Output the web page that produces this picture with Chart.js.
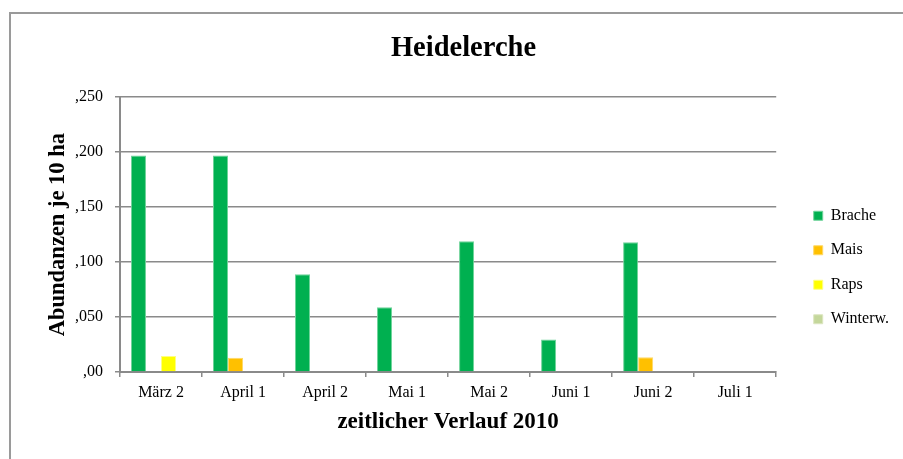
<!DOCTYPE html>
<html lang="de">
<head>
    <meta charset="UTF-8">
    <title>Heidelerche</title>
    <script src="https://cdn.jsdelivr.net/npm/chart.js"></script>
    <style>
        html, body {
            margin: 0;
            padding: 0;
            background: #fff;
        }
        .wrap {
            position: relative;
            width: 903px;
            height: 459px;
            overflow: hidden;
        }
        .rahmen {
            position: absolute;
            left: 9px;
            top: 12px;
            width: 1000px;
            height: 1000px;
            border: 2px solid #9a9a9a;
            box-sizing: border-box;
        }
        .chart-box {
            position: absolute;
            left: 0;
            top: 0;
            width: 903px;
            height: 459px;
        }
    </style>
</head>
<body>

<div class="wrap">
    <div class="rahmen"></div>
    <div class="chart-box">
        <canvas id="heidelerche-graph"></canvas>
    </div>
</div>

<script>
    // Werte (Abundanzen je 10 ha)
    const kategorien = ['März 2', 'April 1', 'April 2', 'Mai 1', 'Mai 2', 'Juni 1', 'Juni 2', 'Juli 1'];
    const brache = [0.197, 0.197, 0.089, 0.059, 0.119, 0.0295, 0.118, 0];
    const mais = [0, 0.013, 0, 0, 0, 0, 0.0134, 0];
    const raps = [0.0146, 0, 0, 0, 0, 0, 0, 0];
    const winterw = [0, 0, 0, 0, 0, 0, 0, 0];
    const yTickLabels = [',00', ',050', ',100', ',150', ',200', ',250'];

    const schrift = "'Liberation Serif', 'Times New Roman', serif";
    const gitterFarbe = '#8a8a8a';

    // Legende an die Stelle wie im Original schieben
    const legendeVerschieben = {
        id: 'legendeVerschieben',
        afterLayout(chart) {
            const lg = chart.legend;
            if (!lg) return;
            lg.left += 19;
            lg.right += 19;
            lg.top += 38;
            lg.bottom += 38;
        }
    };

    const ctx = document.getElementById('heidelerche-graph').getContext('2d');
    new Chart(ctx, {
        type: 'bar',
        data: {
            labels: kategorien,
            datasets: [
                { label: 'Brache', data: brache, backgroundColor: '#00b050', borderColor: '#6fd39a', borderWidth: 1 },
                { label: 'Mais', data: mais, backgroundColor: '#ffc000', borderColor: '#ffd966', borderWidth: 1 },
                { label: 'Raps', data: raps, backgroundColor: '#ffff00', borderColor: '#ffff80', borderWidth: 1 },
                { label: 'Winterw.', data: winterw, backgroundColor: '#c4d79b', borderColor: '#dce6c1', borderWidth: 1 }
            ]
        },
        options: {
            responsive: true,
            maintainAspectRatio: false,
            animation: false,
            layout: {
                padding: { left: 47, right: 23, top: 0, bottom: 0 }
            },
            datasets: {
                bar: {
                    categoryPercentage: 0.733,
                    barPercentage: 1
                }
            },
            plugins: {
                title: {
                    display: true,
                    text: 'Heidelerche',
                    color: '#000',
                    font: { family: schrift, size: 28.5, weight: 'bold' },
                    padding: { top: 32, bottom: 31 }
                },
                legend: {
                    position: 'right',
                    labels: {
                        color: '#000',
                        font: { family: schrift, size: 16 },
                        boxWidth: 9,
                        boxHeight: 9,
                        padding: 18.5
                    }
                },
                tooltip: { enabled: false }
            },
            scales: {
                x: {
                    afterFit: (s) => { s.height = 87; },
                    grid: {
                        drawOnChartArea: false,
                        drawTicks: true,
                        tickLength: 5,
                        color: gitterFarbe,
                        lineWidth: 1.5
                    },
                    border: { color: gitterFarbe, width: 2 },
                    ticks: {
                        color: '#000',
                        font: { family: schrift, size: 16 },
                        padding: 6,
                        maxRotation: 0
                    },
                    title: {
                        display: true,
                        text: 'zeitlicher Verlauf 2010',
                        color: '#000',
                        font: { family: schrift, size: 23, weight: 'bold' },
                        padding: { top: 0, bottom: 23 }
                    }
                },
                y: {
                    min: 0,
                    max: 0.25,
                    afterFit: (s) => { s.width = 73; },
                    grid: {
                        color: gitterFarbe,
                        lineWidth: 1.5,
                        tickLength: 5
                    },
                    border: { color: gitterFarbe, width: 2 },
                    ticks: {
                        stepSize: 0.05,
                        color: '#000',
                        font: { family: schrift, size: 16 },
                        padding: 12,
                        callback: (v, i) => yTickLabels[i]
                    },
                    title: {
                        display: true,
                        text: 'Abundanzen je 10 ha',
                        color: '#000',
                        font: { family: schrift, size: 22.5, weight: 'bold', lineHeight: 1 },
                        padding: { top: 0, bottom: 0 }
                    }
                }
            }
        },
        plugins: [legendeVerschieben]
    });
</script>

</body>
</html>
